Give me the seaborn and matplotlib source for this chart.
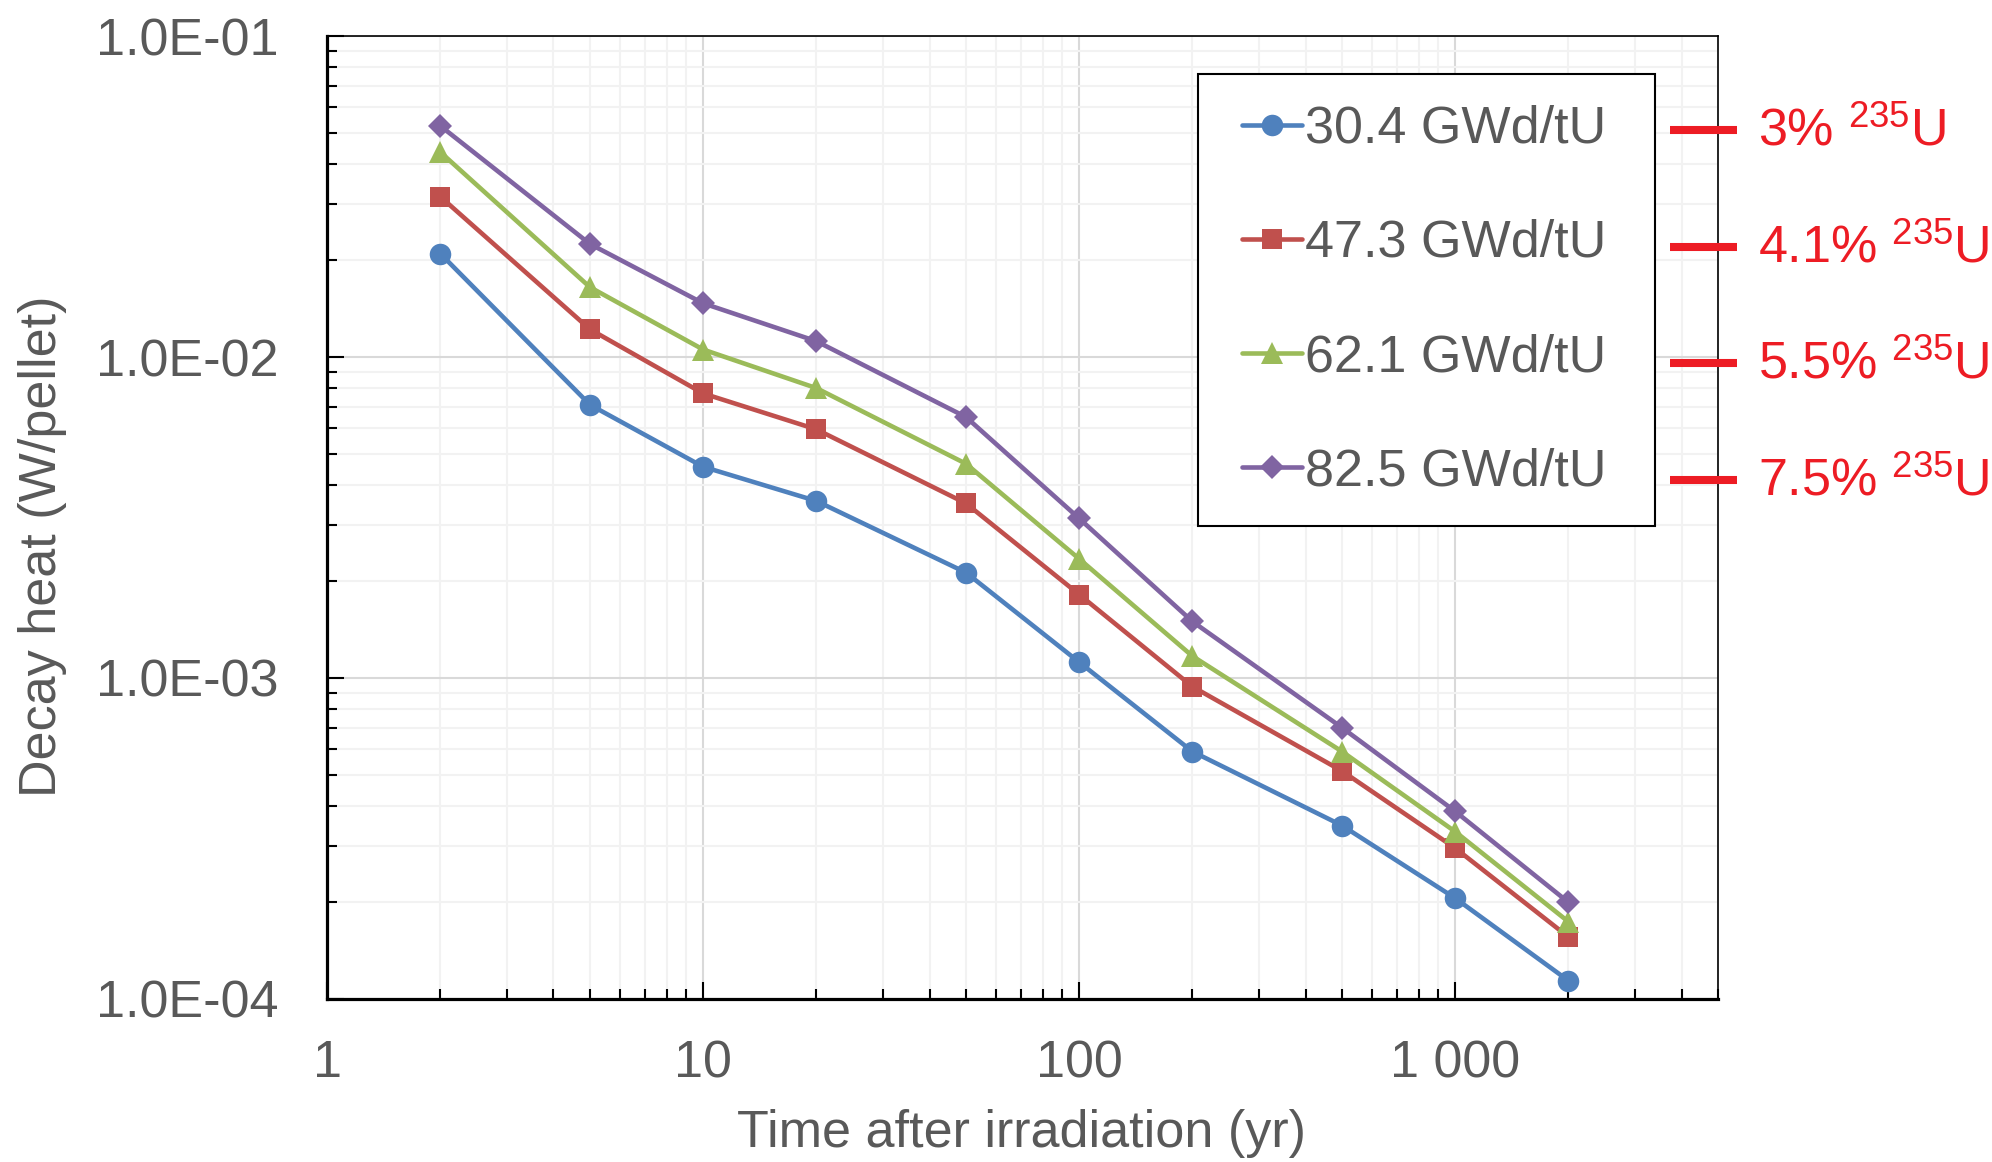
import pandas as pd
import numpy as np
import matplotlib.pyplot as plt
import matplotlib.ticker as mticker
from matplotlib.patches import Rectangle
import seaborn as sns

# time after irradiation (yr)
years = [2, 5, 10, 20, 50, 100, 200, 500, 1000, 2000]

# decay heat (W/pellet) per burnup
heat_30 = [2.10e-2, 7.1e-3, 4.55e-3, 3.56e-3, 2.13e-3, 1.12e-3, 5.9e-4, 3.47e-4, 2.06e-4, 1.14e-4]
heat_47 = [3.16e-2, 1.22e-2, 7.7e-3, 5.95e-3, 3.5e-3, 1.82e-3, 9.4e-4, 5.13e-4, 2.95e-4, 1.56e-4]
heat_62 = [4.35e-2, 1.65e-2, 1.055e-2, 8.0e-3, 4.65e-3, 2.35e-3, 1.17e-3, 5.9e-4, 3.32e-4, 1.74e-4]
heat_82 = [5.25e-2, 2.25e-2, 1.47e-2, 1.12e-2, 6.5e-3, 3.14e-3, 1.5e-3, 7.0e-4, 3.84e-4, 2.0e-4]

burnups = ["30.4 GWd/tU", "47.3 GWd/tU", "62.1 GWd/tU", "82.5 GWd/tU"]
enrichments = ["3%", "4.1%", "5.5%", "7.5%"]
colors = ["#4F81BD", "#C0504D", "#9BBB59", "#8064A2"]
markers = ["o", "s", "^", "D"]

xtick_vals = [1, 10, 100, 1000]
xtick_labels = ["1", "10", "100", "1 000"]

df = pd.DataFrame({
    "time": years * 4,
    "heat": heat_30 + heat_47 + heat_62 + heat_82,
    "burnup": np.repeat(burnups, len(years)),
})

sns.set_theme(style="white")
plt.rcParams["font.family"] = ["Liberation Sans", "DejaVu Sans"]
plt.rcParams["mathtext.fontset"] = "custom"
plt.rcParams["mathtext.rm"] = "Liberation Sans"
plt.rcParams["mathtext.default"] = "regular"

grey = "#595959"
fs = 37.5

fig = plt.figure(figsize=(19.92, 11.62), dpi=100)
ax = fig.add_axes([0.1642, 0.1403, 0.6983, 0.8287])

sns.lineplot(data=df, x="time", y="heat", hue="burnup", style="burnup",
             hue_order=burnups, style_order=burnups,
             palette=dict(zip(burnups, colors)), markers=markers, dashes=False,
             linewidth=3.3, markersize=15, markeredgewidth=0,
             legend=False, ax=ax)

# marker sizes differ a bit by shape
for line, ms in zip(ax.get_lines(), [15.5, 14, 16.5, 12.5]):
    line.set_markersize(ms)

ax.set_xscale("log")
ax.set_yscale("log")
ax.set_xlim(1, 5000)
ax.set_ylim(1e-4, 1e-1)

ax.set_xticks(xtick_vals)
ax.set_xticklabels(xtick_labels)
ax.xaxis.set_minor_locator(mticker.LogLocator(base=10, subs=np.arange(2, 10), numticks=20))
ax.xaxis.set_minor_formatter(mticker.NullFormatter())
ax.yaxis.set_major_locator(mticker.LogLocator(base=10, numticks=10))
ax.yaxis.set_major_formatter(mticker.FuncFormatter(lambda v, p: f"{v:.1E}"))
ax.yaxis.set_minor_locator(mticker.LogLocator(base=10, subs=np.arange(2, 10), numticks=20))
ax.yaxis.set_minor_formatter(mticker.NullFormatter())

ax.grid(which="major", color="#D9D9D9", linewidth=1.5)
ax.grid(which="minor", color="#F2F2F2", linewidth=1.5)
ax.set_axisbelow(True)

ax.tick_params(which="both", direction="in", colors="black", labelcolor=grey,
               labelsize=fs, top=False, right=False, left=True, bottom=True, width=1.5)
ax.tick_params(which="major", length=12)
ax.tick_params(which="minor", length=7)
ax.tick_params(axis="y", which="major", pad=35)
ax.tick_params(axis="x", which="major", pad=29)

for side in ["left", "bottom"]:
    ax.spines[side].set_linewidth(2.3)
    ax.spines[side].set_color("black")
for side in ["top", "right"]:
    ax.spines[side].set_linewidth(1.2)
    ax.spines[side].set_color("black")

ax.set_xlabel("Time after irradiation (yr)", fontsize=fs, color=grey)
ax.set_ylabel("Decay heat (W/pellet)", fontsize=fs, color=grey)
ax.xaxis.set_label_coords(0.499, -0.1145)
ax.yaxis.set_label_coords(-0.187, 0.47)

# legend box drawn as a plain rectangle, like the spreadsheet one
ax.add_patch(Rectangle((0.6262, 0.4912), 0.3285, 0.4693, transform=ax.transAxes,
                       facecolor="white", edgecolor="black", linewidth=1.5,
                       zorder=5, clip_on=False))
leg = ax.legend(ax.get_lines()[:4], burnups, loc="upper left",
                bbox_to_anchor=(0.6578, 0.9285), frameon=False,
                fontsize=fs, labelcolor=grey, handlelength=1.15,
                handletextpad=0.05, borderpad=0, borderaxespad=0,
                labelspacing=1.25)
leg.set_zorder(6)

# enrichment labels to the right of the plot
for i, enr in enumerate(enrichments):
    y = 0.9024 - i * 0.1212
    ax.plot([0.9655, 1.0137], [y, y], transform=ax.transAxes, color="#ED1C24",
            linewidth=5.8, solid_capstyle="butt", clip_on=False, zorder=7)
    ax.text(1.0288, y - 0.016, enr + r" $^{235}$U", transform=ax.transAxes,
            color="#ED1C24", fontsize=fs, va="baseline", ha="left")

fig.savefig("out.png", dpi=100)
